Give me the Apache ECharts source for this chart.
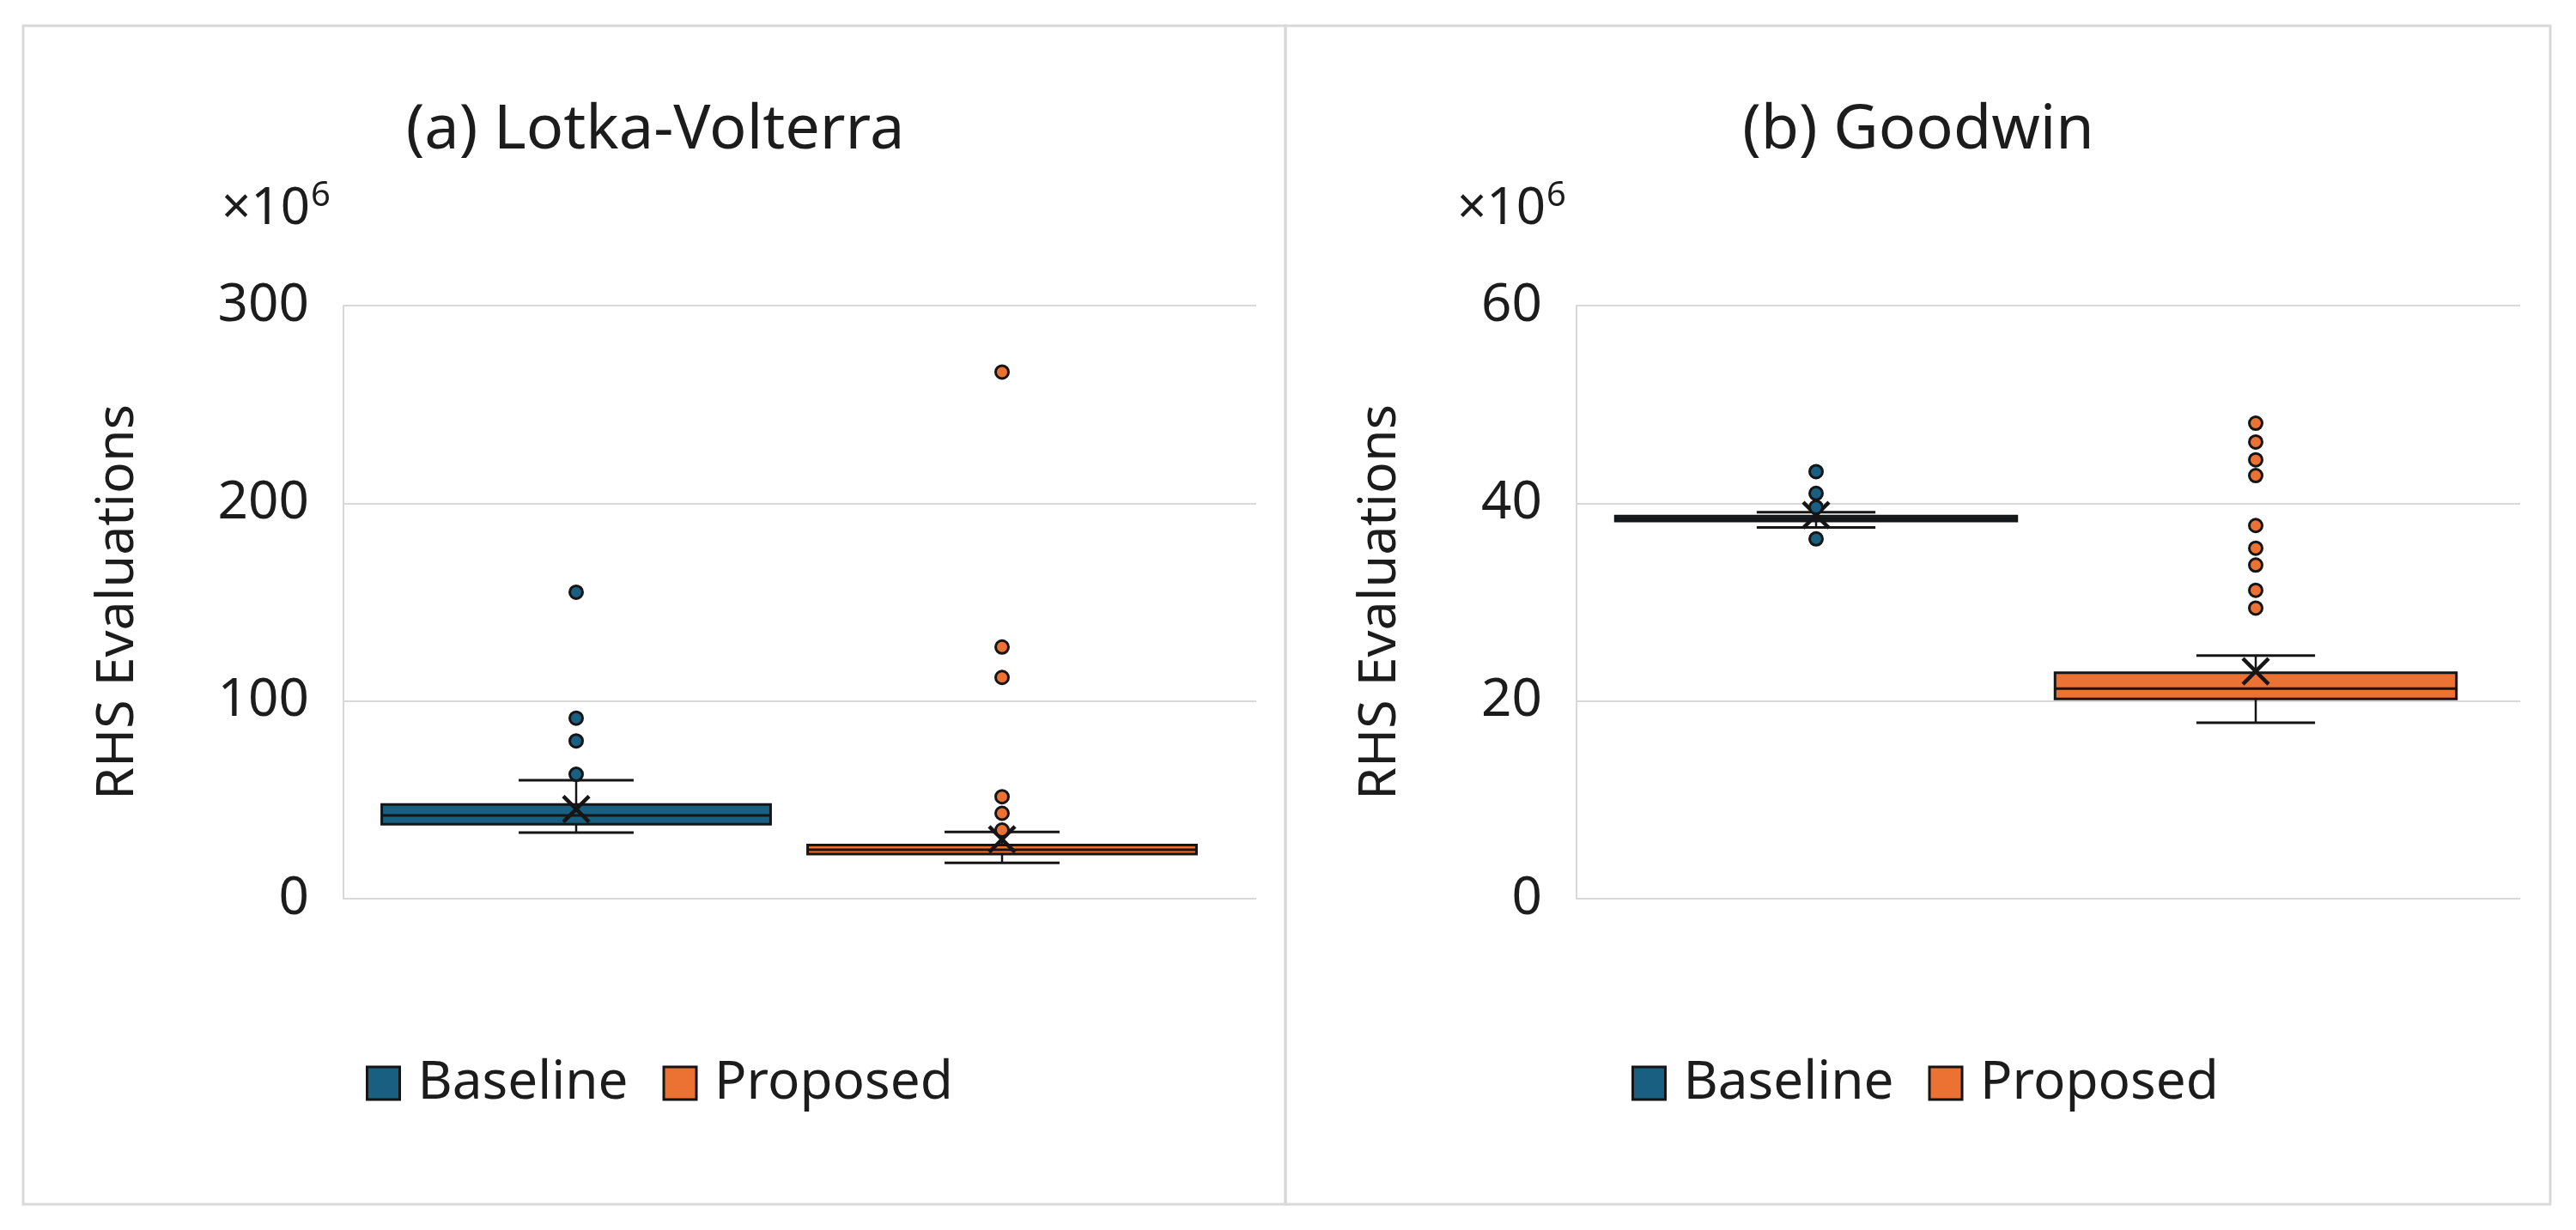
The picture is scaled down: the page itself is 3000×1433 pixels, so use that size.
<!DOCTYPE html>
<html>
<head>
<meta charset="utf-8">
<script src="https://cdn.jsdelivr.net/npm/echarts@6/dist/echarts.min.js"></script>
<style>html,body{margin:0;padding:0;background:#fff}#c{width:3000px;height:1433px}</style>
</head>
<body>
<div id="c"></div>
<script>
// ---------------- data (values in ×10^6 RHS evaluations) ----------------
const categories = ['Baseline', 'Proposed'];
const panelTitles = ['(a) Lotka-Volterra', '(b) Goodwin'];
const yAxisName = 'RHS Evaluations';
const scaleText = ['×10', '6'];
const lvTicks = [0, 100, 200, 300];
const gwTicks = [0, 20, 40, 60];
// [lower whisker, Q1, median, Q3, upper whisker, mean]
const lvBaselineBox = [33.4, 37.7, 42.1, 47.7, 59.9, 45.3];
const lvProposedBox = [18.1, 22.6, 24.8, 27.1, 33.8, 30.0];
const lvBaselineOutliers = [62.9, 79.8, 91.3, 155.0];
const lvProposedOutliers = [34.7, 43.2, 51.6, 111.9, 127.3, 266.4];
const gwBaselineBox = [37.55, 38.2, 38.45, 38.7, 39.1, 38.8];
const gwProposedBox = [17.8, 20.2, 21.25, 22.85, 24.6, 23.0];
const gwBaselineOutliers = [36.4, 39.6, 41.0, 43.2];
const gwProposedOutliers = [29.4, 31.2, 33.75, 35.45, 37.75, 42.8, 44.4, 46.2, 48.1];

// ---------------- style ----------------
const FONT = '"Noto Sans", "Open Sans", sans-serif';
const TXT = '#1c1c1c';
const INK = '#151515';
const GRIDC = '#d9d9d9';
const COLORS = { Baseline: '#185F81', Proposed: '#EC7234' };
const BOX_FRAC = 0.913, CAP_FRAC = 0.27;

function makeRender(fill) {
  return function (params, api) {
    const ci = api.value(0);
    const lo = api.value(1), q1 = api.value(2), med = api.value(3),
          q3 = api.value(4), hi = api.value(5), mean = api.value(6);
    const X = api.coord([ci, med])[0];
    const Y = v => api.coord([ci, v])[1];
    const band = api.size([1, 0])[0];
    const bw = band * BOX_FRAC, cw = band * CAP_FRAC;
    const ln = (x1, y1, x2, y2, w) => ({ type: 'line', shape: { x1, y1, x2, y2 }, style: { stroke: INK, lineWidth: w } });
    const yq1 = Y(q1), yq3 = Y(q3), ym = Y(mean), yhi = Y(hi), ylo = Y(lo), ymed = Y(med);
    const h = 15;
    return {
      type: 'group',
      children: [
        ln(X, yhi, X, yq3, 2.5),
        ln(X, yq1, X, ylo, 2.5),
        ln(X - cw / 2, yhi, X + cw / 2, yhi, 3),
        ln(X - cw / 2, ylo, X + cw / 2, ylo, 3),
        { type: 'rect', shape: { x: X - bw / 2, y: yq3, width: bw, height: yq1 - yq3 }, style: { fill: fill, stroke: INK, lineWidth: 3 } },
        ln(X - bw / 2, ymed, X + bw / 2, ymed, 3),
        ln(X - h, ym - h, X + h, ym + h, 4.5),
        ln(X - h, ym + h, X + h, ym - h, 4.5)
      ]
    };
  };
}

const panels = [
  { ticks: lvTicks, boxes: [lvBaselineBox, lvProposedBox], outliers: [lvBaselineOutliers, lvProposedOutliers],
    bgLeft: 400, bgWidth: 1063, plotLeft: 423, plotWidth: 992, nameGap: 232, titleX: 763, scaleX: 258, legendX: 426,
    frameX: 27, frameW: 1470 },
  { ticks: gwTicks, boxes: [gwBaselineBox, gwProposedBox], outliers: [gwBaselineOutliers, gwProposedOutliers],
    bgLeft: 1836, bgWidth: 1099, plotLeft: 1859, plotWidth: 1024, nameGap: 198, titleX: 2234, scaleX: 1697, legendX: 1900,
    frameX: 1497, frameW: 1473 }
];

const TOP = 356, HEIGHT = 691;
const grid = [], xAxis = [], yAxis = [], series = [], legend = [], graphic = [];

panels.forEach((p, pi) => {
  const tmin = p.ticks[0], tmax = p.ticks[p.ticks.length - 1], step = p.ticks[1] - p.ticks[0];
  const gBg = grid.length;
  grid.push({ left: p.bgLeft, width: p.bgWidth, top: TOP, height: HEIGHT, containLabel: false });
  const gPlot = grid.length;
  grid.push({ left: p.plotLeft, width: p.plotWidth, top: TOP, height: HEIGHT, containLabel: false });

  xAxis.push({ gridIndex: gBg, type: 'category', data: categories, show: false });
  xAxis.push({ gridIndex: gPlot, type: 'category', data: categories, show: false });
  yAxis.push({
    gridIndex: gBg, type: 'value', min: tmin, max: tmax, interval: step,
    axisLine: { show: true, lineStyle: { color: GRIDC, width: 2 } },
    axisTick: { show: false },
    splitLine: { show: true, lineStyle: { color: GRIDC, width: 2 } },
    axisLabel: { color: TXT, fontSize: 62, fontFamily: FONT, margin: 40 },
    name: yAxisName, nameLocation: 'middle', nameRotate: 90, nameGap: p.nameGap,
    nameTextStyle: { color: TXT, fontSize: 61, fontFamily: FONT }
  });
  yAxis.push({ gridIndex: gPlot, type: 'value', min: tmin, max: tmax, show: false });

  categories.forEach((cat, ci) => {
    const fill = COLORS[cat];
    series.push({
      name: cat, type: 'custom', xAxisIndex: gPlot, yAxisIndex: gPlot,
      itemStyle: { color: fill },
      encode: { x: 0, y: [1, 2, 3, 4, 5, 6] },
      renderItem: makeRender(fill),
      data: [[cat].concat(p.boxes[ci])],
      z: 2, silent: true
    });
    series.push({
      name: cat, type: 'scatter', xAxisIndex: gPlot, yAxisIndex: gPlot,
      symbol: 'circle', symbolSize: 15,
      itemStyle: { color: fill, borderColor: INK, borderWidth: 3, opacity: 1 },
      data: p.outliers[ci].map(v => [cat, v]),
      z: 3, silent: true
    });
  });

  legend.push({
    left: p.legendX, top: 1231, orient: 'horizontal', padding: 0,
    itemWidth: 38, itemHeight: 38, itemGap: 40, icon: 'rect',
    textStyle: { color: TXT, fontSize: 62, fontFamily: FONT, lineHeight: 62, padding: [0, 0, 0, 16] },
    data: categories.map(c => ({ name: c, itemStyle: { color: COLORS[c], borderColor: INK, borderWidth: 3 } })),
    selectedMode: false
  });

  graphic.push({
    type: 'rect', shape: { x: p.frameX, y: 30, width: p.frameW, height: 1373 },
    style: { fill: 'none', stroke: GRIDC, lineWidth: 3 }, z: -10, silent: true
  });
  graphic.push({
    type: 'text', x: p.titleX, y: 152,
    style: { text: panelTitles[pi], fill: TXT, fontSize: 72, fontFamily: FONT, align: 'center', verticalAlign: 'middle' },
    silent: true
  });
  graphic.push({
    type: 'text', x: p.scaleX, y: 244,
    style: { text: scaleText[0], fill: TXT, fontSize: 60, fontFamily: FONT, align: 'left', verticalAlign: 'middle' },
    silent: true
  });
  graphic.push({
    type: 'text', x: p.scaleX + 104, y: 229,
    style: { text: scaleText[1], fill: TXT, fontSize: 40, fontFamily: FONT, align: 'left', verticalAlign: 'middle' },
    silent: true
  });
});

const chart = echarts.init(document.getElementById('c'), null, { renderer: 'canvas' });
chart.setOption({
  backgroundColor: '#ffffff',
  animation: false,
  textStyle: { fontFamily: FONT },
  grid, xAxis, yAxis, series, legend, graphic
});
</script>
</body>
</html>
